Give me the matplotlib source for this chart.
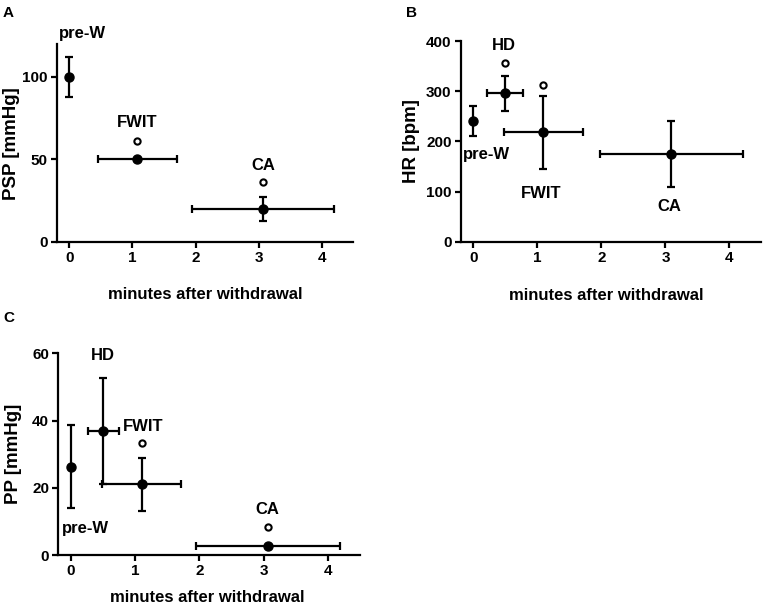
import matplotlib
matplotlib.use("Agg")
import matplotlib.pyplot as plt

plt.rcParams['font.family'] = ['Liberation Sans', 'DejaVu Sans']
plt.rcParams['font.weight'] = 'bold'

# --- data ---
# each point: x, y, xerr, yerr (None = no bar)
psp_x = [0, 1.08, 3.07]
psp_y = [100, 50, 20]
psp_xerr = [None, 0.62, 1.12]
psp_yerr = [12, None, 7.3]
psp_sig_x = [1.08, 3.07]
psp_sig_y = [61, 36]
psp_lab = ['pre-W', 'FWIT', 'CA']
psp_lab_x = [0.21, 1.08, 3.07]
psp_lab_y = [126.5, 72, 46.5]

hr_x = [0, 0.49, 1.09, 3.09]
hr_y = [240, 296, 218, 175]
hr_xerr = [None, 0.28, 0.62, 1.12]
hr_yerr = [30, 35, 73, 66]
hr_sig_x = [0.49, 1.09]
hr_sig_y = [357, 313]
hr_lab = ['pre-W', 'HD', 'FWIT', 'CA']
hr_lab_x = [0.2, 0.48, 1.06, 3.06]
hr_lab_y = [173, 391, 96, 71]

pp_x = [0, 0.50, 1.10, 3.07]
pp_y = [26.3, 36.9, 21, 2.8]
pp_xerr = [None, 0.24, 0.62, 1.12]
pp_yerr = [12.3, 15.7, 8, None]
pp_sig_x = [1.10, 3.07]
pp_sig_y = [33.2, 8.2]
pp_lab = ['pre-W', 'HD', 'FWIT', 'CA']
pp_lab_x = [0.22, 0.49, 1.12, 3.05]
pp_lab_y = [7.9, 59.5, 38.2, 13.4]

xticks = [0, 1, 2, 3, 4]
xlabel = 'minutes after withdrawal'


def panel(ax, xs, ys, xe, ye, sx, sy, labs, lx, ly, ylim, yticks, ylab, xlab_pos, ylab_pos):
    for i in range(len(xs)):
        ax.errorbar(xs[i], ys[i], xerr=xe[i], yerr=ye[i], fmt='o', color='black',
                    ms=6.5, elinewidth=1.6, capsize=3, capthick=1.6, clip_on=False)
    ax.plot(sx, sy, 'o', mfc='white', mec='black', ms=4.5, mew=1.5, clip_on=False)
    for t, a, b in zip(labs, lx, ly):
        ax.text(a, b, t, ha='center', va='center', fontsize=12, fontweight='bold', clip_on=False)
    ax.set_xlim(-0.2, 4.5)
    ax.set_ylim(*ylim)
    ax.set_xticks(xticks)
    ax.set_yticks(yticks)
    ax.spines['top'].set_visible(False)
    ax.spines['right'].set_visible(False)
    for s in ['left', 'bottom']:
        ax.spines[s].set_linewidth(1.6)
    ax.tick_params(direction='out', length=4, width=1.6, labelsize=11, pad=2.5)
    for lb in ax.get_xticklabels() + ax.get_yticklabels():
        lb.set_fontweight('bold')
    ax.set_xlabel(xlabel, fontsize=12, fontweight='bold', va='center')
    ax.set_ylabel(ylab, fontsize=13.5, fontweight='bold', va='center')
    ax.xaxis.set_label_coords(*xlab_pos)
    ax.yaxis.set_label_coords(*ylab_pos)


fig = plt.figure(figsize=(7.65, 6.16), dpi=100)
axA = fig.add_axes([0.0741, 0.6076, 0.3877, 0.3214])
axB = fig.add_axes([0.6022, 0.6076, 0.3932, 0.3258])
axC = fig.add_axes([0.0761, 0.0990, 0.3944, 0.3274])

panel(axA, psp_x, psp_y, psp_xerr, psp_yerr, psp_sig_x, psp_sig_y,
      psp_lab, psp_lab_x, psp_lab_y, (0, 120), [0, 50, 100], 'PSP [mmHg]',
      (0.5, -0.269), (-0.151, 0.495))
panel(axB, hr_x, hr_y, hr_xerr, hr_yerr, hr_sig_x, hr_sig_y,
      hr_lab, hr_lab_x, hr_lab_y, (0, 400), [0, 100, 200, 300, 400], 'HR [bpm]',
      (0.485, -0.266), (-0.163, 0.5))
panel(axC, pp_x, pp_y, pp_xerr, pp_yerr, pp_sig_x, pp_sig_y,
      pp_lab, pp_lab_x, pp_lab_y, (0, 60), [0, 20, 40, 60], 'PP [mmHg]',
      (0.493, -0.213), (-0.148, 0.5))

fig.text(3 / 765, 1 - 13 / 616, 'A', fontsize=11, fontweight='bold', va='center')
fig.text(406 / 765, 1 - 13 / 616, 'B', fontsize=11, fontweight='bold', va='center')
fig.text(3 / 765, 1 - 318 / 616, 'C', fontsize=11, fontweight='bold', va='center')

fig.savefig('out.png', dpi=100)
